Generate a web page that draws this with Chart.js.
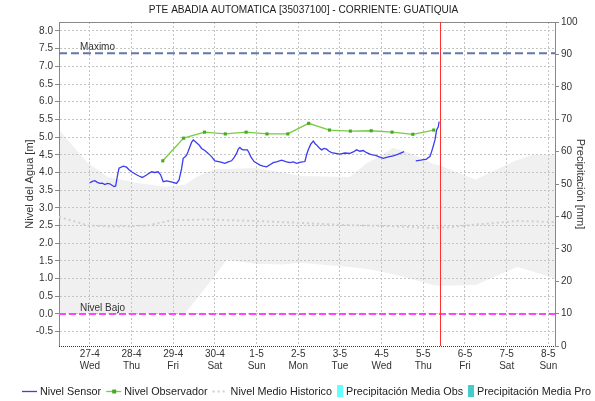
<!DOCTYPE html>
<html>
<head>
<meta charset="utf-8">
<title>PTE ABADIA AUTOMATICA</title>
<script src="https://cdn.jsdelivr.net/npm/chart.js@4.4.1/dist/chart.umd.min.js"></script>
<style>
  html, body { margin: 0; padding: 0; background: #fff; }
  #wrap { width: 595px; height: 401px; }
</style>
</head>
<body>
<div id="wrap"><canvas id="nivelChart" width="595" height="401"></canvas></div>
<script>
const titulo = "PTE ABADIA AUTOMATICA [35037100] - CORRIENTE: GUATIQUIA";

// eje x en días contados desde el 27-4 a las 00:00
const fechas = ["27-4", "28-4", "29-4", "30-4", "1-5", "2-5", "3-5", "4-5", "5-5", "6-5", "7-5", "8-5"];
const diasSemana = ["Wed", "Thu", "Fri", "Sat", "Sun", "Mon", "Tue", "Wed", "Thu", "Fri", "Sat", "Sun"];
const xInicio = -0.74;
const xFin = 11.16;
const ahora = 8.4;

const nivelTicks = [-0.5, 0, 0.5, 1, 1.5, 2, 2.5, 3, 3.5, 4, 4.5, 5, 5.5, 6, 6.5, 7, 7.5, 8];
const nivelMin = -0.905;
const nivelMax = 8.254;
const nivelMaximo = 7.37;
const nivelBajo = 0.0;

const sensorDias = [0.00, 0.06, 0.12, 0.18, 0.24, 0.30, 0.36, 0.42, 0.48, 0.54, 0.58, 0.62, 0.66, 0.70, 0.80, 0.88, 0.94, 1.00, 1.10, 1.18, 1.26, 1.36, 1.48, 1.56, 1.64, 1.70, 1.76, 1.84, 1.92, 2.00, 2.08, 2.14, 2.20, 2.24, 2.28, 2.32, 2.36, 2.40, 2.44, 2.48, 2.52, 2.56, 2.62, 2.68, 2.76, 2.84, 2.92, 3.00, 3.12, 3.24, 3.32, 3.40, 3.46, 3.52, 3.56, 3.60, 3.64, 3.68, 3.78, 3.82, 3.86, 3.94, 4.00, 4.08, 4.16, 4.24, 4.32, 4.40, 4.50, 4.60, 4.70, 4.80, 4.88, 4.96, 5.06, 5.16, 5.20, 5.24, 5.30, 5.36, 5.40, 5.44, 5.50, 5.56, 5.62, 5.68, 5.74, 5.80, 5.90, 6.00, 6.12, 6.24, 6.32, 6.40, 6.48, 6.56, 6.64, 6.72, 6.78, 6.84, 6.94, 7.04, 7.16, 7.28, 7.40, 7.54, 7.68, 7.82, 7.94, 8.08, 8.12, 8.16, 8.20, 8.24, 8.28, 8.32, 8.36, 8.38];
const sensorNivel = [3.71, 3.75, 3.77, 3.72, 3.69, 3.70, 3.66, 3.69, 3.68, 3.63, 3.60, 3.62, 3.90, 4.12, 4.18, 4.15, 4.08, 4.02, 3.95, 3.90, 3.86, 3.93, 4.02, 4.00, 4.02, 3.93, 3.74, 3.76, 3.74, 3.72, 3.69, 3.79, 4.10, 4.40, 4.44, 4.49, 4.60, 4.73, 4.85, 4.92, 4.88, 4.84, 4.78, 4.68, 4.62, 4.54, 4.45, 4.33, 4.30, 4.26, 4.30, 4.33, 4.42, 4.54, 4.66, 4.71, 4.66, 4.64, 4.64, 4.56, 4.45, 4.31, 4.27, 4.21, 4.18, 4.16, 4.22, 4.28, 4.31, 4.35, 4.31, 4.28, 4.30, 4.26, 4.29, 4.31, 4.50, 4.64, 4.80, 4.89, 4.82, 4.78, 4.70, 4.64, 4.68, 4.66, 4.60, 4.56, 4.54, 4.52, 4.55, 4.54, 4.58, 4.64, 4.60, 4.62, 4.56, 4.52, 4.50, 4.49, 4.44, 4.40, 4.44, 4.47, 4.52, 4.59, null, 4.33, 4.35, 4.38, 4.42, 4.45, 4.59, 4.75, 4.92, 5.20, 5.29, 5.44];

const obsDias = [1.75, 2.25, 2.75, 3.25, 3.75, 4.25, 4.75, 5.25, 5.75, 6.25, 6.75, 7.25, 7.75, 8.25];
const obsNivel = [4.33, 4.97, 5.14, 5.09, 5.14, 5.09, 5.09, 5.39, 5.20, 5.17, 5.18, 5.14, 5.08, 5.20];

const histDias = [-0.74, -0.3, -0.05, 0.6, 1.39, 1.97, 2.8, 3.96, 5.16, 6.0, 7.03, 8.23, 8.6, 9.2, 10.25, 11.16];
const histNivel = [2.74, 2.6, 2.5, 2.47, 2.5, 2.65, 2.67, 2.63, 2.57, 2.52, 2.49, 2.43, 2.45, 2.52, 2.63, 2.6];

// banda histórica (máximos y mínimos)
const bandaDias = [-0.74, -0.05, 0.43, 1.15, 1.8, 2.28, 2.6, 3.0, 3.29, 3.96, 4.63, 5.04, 6.24, 6.65, 7.03, 7.27, 7.68, 8.23, 8.40, 9.25, 10.25, 10.63, 11.16];
const bandaMax = [5.2, 4.27, 3.87, 3.70, 3.6, 3.65, 3.9, 4.1, 4.1, 4.13, 4.0, 3.9, 3.87, 4.27, 4.5, 4.7, 4.55, 4.25, 4.2, 3.8, 4.35, 4.5, 4.5];
const bandaMin = [0.02, 0.02, 0.02, 0.02, 0.02, 0.02, 0.48, 1.09, 1.53, 1.42, 1.4, 1.45, 1.33, 1.27, 1.19, 1.12, 1.0, 0.82, 0.8, 0.82, 1.33, 1.2, 1.0];

const precipObs = [];
const precipPro = [];

const fuente = '"Liberation Sans", Arial, sans-serif';
Chart.defaults.font.family = fuente;
Chart.defaults.color = "#333";
Chart.defaults.animation = false;

const puntos = (xs, ys) => xs.map((x, i) => ({ x: x, y: ys[i] }));

const decoracion = {
    id: "decoracion",
    afterDatasetsDraw(chart) {
        const { ctx, chartArea: a, scales: { x, y } } = chart;
        ctx.save();
        ctx.lineWidth = 1;

        ctx.strokeStyle = "#888";
        ctx.beginPath();
        ctx.moveTo(a.left, a.top + 0.5);
        ctx.lineTo(a.right, a.top + 0.5);
        ctx.stroke();

        ctx.strokeStyle = "#333";
        ctx.setLineDash([1, 1]);
        ctx.beginPath();
        ctx.moveTo(a.left, a.bottom + 0.5);
        ctx.lineTo(a.right, a.bottom + 0.5);
        ctx.stroke();
        ctx.setLineDash([]);

        const xa = Math.round(x.getPixelForValue(ahora)) + 0.5;
        ctx.strokeStyle = "#ff3030";
        ctx.beginPath();
        ctx.moveTo(xa, a.top);
        ctx.lineTo(xa, a.bottom);
        ctx.stroke();

        ctx.font = "10px " + fuente;
        ctx.fillStyle = "#333";
        ctx.textBaseline = "alphabetic";
        ctx.fillText("Maximo", a.left + 21, y.getPixelForValue(nivelMaximo) - 3);
        ctx.fillText("Nivel Bajo", a.left + 21, y.getPixelForValue(nivelBajo) - 3);
        ctx.restore();
    },
    afterDraw(chart) {
        const { ctx, width } = chart;
        ctx.save();
        ctx.fillStyle = "#222";
        ctx.font = "10.1px " + fuente;
        ctx.textAlign = "center";
        ctx.textBaseline = "middle";
        ctx.fillText(titulo, width / 2 + 6, 10);

        // leyenda en una sola fila
        ctx.textAlign = "left";
        ctx.font = "10.8px " + fuente;
        let lx = 22;
        const ly = 391;
        chart.data.datasets.filter(d => d.enLeyenda).forEach(d => {
            let ancho;
            if (d.type === "bar") {
                ctx.fillStyle = d.backgroundColor;
                ctx.fillRect(lx, ly - 6, 6, 12);
                ancho = 9;
            } else {
                ctx.strokeStyle = d.borderColor;
                ctx.lineWidth = d.borderWidth;
                ctx.setLineDash(d.borderDash || []);
                ctx.beginPath();
                ctx.moveTo(lx, ly + 0.5);
                ctx.lineTo(lx + 15, ly + 0.5);
                ctx.stroke();
                ctx.setLineDash([]);
                if (d.pointRadius > 0) {
                    ctx.fillStyle = d.pointBackgroundColor;
                    ctx.fillRect(lx + 6, ly - 1.5, 4, 4);
                }
                ancho = 18;
            }
            ctx.fillStyle = "#222";
            ctx.fillText(d.label, lx + ancho, ly + 1);
            lx += ancho + ctx.measureText(d.label).width + 5;
        });
        ctx.restore();
    }
};

const ctx = document.getElementById("nivelChart").getContext("2d");

new Chart(ctx, {
    type: "line",
    data: {
        datasets: [
            {
                label: "Nivel Sensor",
                enLeyenda: true,
                data: puntos(sensorDias, sensorNivel),
                borderColor: "#3c3cf0",
                borderWidth: 1.3,
                pointRadius: 0,
                spanGaps: false,
                yAxisID: "y"
            },
            {
                label: "Nivel Observador",
                enLeyenda: true,
                data: puntos(obsDias, obsNivel),
                borderColor: "#77cc44",
                borderWidth: 1.3,
                pointRadius: 2.2,
                pointStyle: "rect",
                pointBackgroundColor: "#44aa22",
                pointBorderWidth: 0,
                yAxisID: "y"
            },
            {
                label: "Nivel Medio Historico",
                enLeyenda: true,
                data: puntos(histDias, histNivel),
                borderColor: "#cfcfcf",
                borderWidth: 2,
                borderDash: [2, 3],
                pointRadius: 0,
                yAxisID: "y"
            },
            {
                type: "bar",
                label: "Precipitación Media Obs",
                enLeyenda: true,
                data: precipObs,
                backgroundColor: "#66ffff",
                yAxisID: "y2"
            },
            {
                type: "bar",
                label: "Precipitación Media Pro",
                enLeyenda: true,
                data: precipPro,
                backgroundColor: "#44cccc",
                yAxisID: "y2"
            },
            {
                label: "Maximo",
                data: [{ x: xInicio, y: nivelMaximo }, { x: xFin, y: nivelMaximo }],
                borderColor: "#6676aa",
                borderWidth: 2,
                borderDash: [8, 4],
                pointRadius: 0,
                yAxisID: "y"
            },
            {
                label: "Nivel Bajo",
                data: [{ x: xInicio, y: nivelBajo }, { x: xFin, y: nivelBajo }],
                borderColor: "#ff44ff",
                borderWidth: 2,
                borderDash: [7, 3],
                pointRadius: 0,
                yAxisID: "y"
            },
            {
                label: "Banda max",
                data: puntos(bandaDias, bandaMax),
                borderWidth: 0,
                pointRadius: 0,
                backgroundColor: "#f0f0f0",
                fill: "+1",
                yAxisID: "y",
                order: 10
            },
            {
                label: "Banda min",
                data: puntos(bandaDias, bandaMin),
                borderWidth: 0,
                pointRadius: 0,
                fill: false,
                yAxisID: "y",
                order: 10
            }
        ]
    },
    options: {
        responsive: false,
        layout: { padding: { top: 22, left: 0, right: 0, bottom: 0 } },
        plugins: {
            legend: { display: false },
            title: { display: false },
            tooltip: { enabled: false },
            filler: { drawTime: "beforeDraw" }
        },
        scales: {
            x: {
                type: "linear",
                min: xInicio,
                max: xFin,
                offset: false,
                afterBuildTicks: s => { s.ticks = fechas.map((f, i) => ({ value: i })); },
                ticks: {
                    callback: (v, i) => [fechas[i], diasSemana[i]],
                    font: { size: 10 },
                    color: "#333",
                    padding: 2,
                    maxRotation: 0,
                    autoSkip: false
                },
                grid: { color: "#c4c4c4", drawTicks: false, offset: false },
                border: { display: false, dash: [2, 2] },
                afterFit: s => { s.height = 55; }
            },
            y: {
                position: "left",
                min: nivelMin,
                max: nivelMax,
                afterBuildTicks: s => { s.ticks = nivelTicks.map(v => ({ value: v })); },
                ticks: {
                    callback: v => v.toFixed(1),
                    font: { size: 10 },
                    color: "#333",
                    padding: 2
                },
                grid: { color: "#c4c4c4", tickLength: 4, tickColor: "#888", tickBorderDash: [] },
                border: { color: "#888", dash: [2, 2] },
                title: {
                    display: true,
                    text: "Nivel del Agua [m]",
                    font: { size: 11 },
                    color: "#333",
                    padding: { top: 23, bottom: 0 }
                },
                afterFit: s => { s.width = 59; }
            },
            y2: {
                position: "right",
                min: 0,
                max: 100,
                ticks: { stepSize: 10, font: { size: 10 }, color: "#333", padding: 2 },
                grid: { drawOnChartArea: false, tickLength: 4, tickColor: "#888" },
                border: { color: "#888" },
                title: {
                    display: true,
                    text: "Precipitación [mm]",
                    font: { size: 11 },
                    color: "#333",
                    padding: { top: 8, bottom: 0 }
                },
                afterFit: s => { s.width = 40; }
            }
        }
    },
    plugins: [decoracion]
});
</script>
</body>
</html>
